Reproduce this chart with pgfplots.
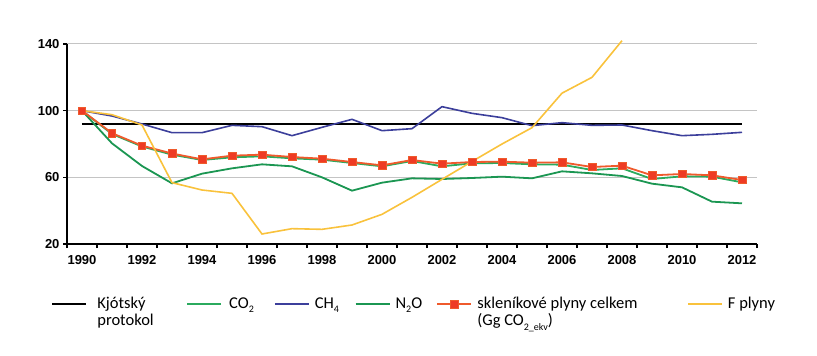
\documentclass[border=0pt]{standalone}
\usepackage{fontspec}
\setmainfont{Carlito}
\newfontfamily\arialfont{Liberation Sans}
\usepackage{pgfplots}
\pgfplotsset{compat=1.18}
\definecolor{cotwo}{HTML}{2BAA5E}
\definecolor{ntwoo}{HTML}{1B9652}
\definecolor{chfour}{HTML}{3C3F9B}
\definecolor{totline}{HTML}{EF5A2C}
\definecolor{totfill}{HTML}{EE3B24}
\definecolor{fgas}{HTML}{F9C23C}
\definecolor{gridc}{HTML}{C4C4C4}
\newcommand\sub[1]{\raisebox{-0.55ex}{\fontsize{10}{10}\selectfont #1}}
\begin{document}
\begin{tikzpicture}
\useasboundingbox (-67pt,-112pt) rectangle (750pt,244pt);
\begin{axis}[
  scale only axis, width=690pt, height=200pt,
  at={(0pt,0pt)}, anchor=south west,
  xmin=1989.5, xmax=2012.5, ymin=20, ymax=140,
  clip=false,
  axis x line*=bottom, axis y line*=left,
  axis line style={line width=1.4pt, black, -},
  xtick={1990,1992,...,2012},
  minor xtick={1989.5,1990.5,...,2012.5},
  ytick={20,60,100,140},
  tick align=outside,
  major tick length=4pt, minor tick length=4pt,
  every tick/.style={black, line width=1.2pt},
  xtick style={draw=none},
  minor x tick style={draw=black, line width=1.2pt},
  ymajorgrids, grid style={gridc, line width=1pt},
  /pgf/number format/1000 sep={},
  /pgf/number format/assume math mode=true,
  ticklabel style={font=\arialfont\bfseries\fontsize{13}{15}\selectfont},
  xticklabel style={yshift=-4pt},
  legend columns=6,
  legend style={draw=none, fill=none, inner sep=0pt, anchor=west,
    at={(axis description cs:-0.0232,-0.30)},
    font=\fontsize{16.5}{17}\selectfont,
    nodes={inner sep=0pt, anchor=west},
    /tikz/every even column/.append style={column sep=0pt},
    /tikz/every odd column/.append style={column sep=0pt}},
  legend image code/.code={\draw[mark repeat=2,mark phase=2,#1] plot coordinates {(0pt,0pt) (17pt,0pt) (34pt,0pt)};},
]
\addplot[black, line width=2.2pt] coordinates {(1990,92) (2012,92)};
\addlegendentry{\makebox[99pt][l]{\hspace{10pt}\rlap{\raisebox{-17pt}[0pt][0pt]{protokol}}Kjótský}}
\addplot[cotwo, line width=1.8pt] coordinates {
(1990,100) (1991,86) (1992,78.5) (1993,73.6) (1994,70.4) (1995,72) (1996,72.6) (1997,71.4) (1998,70.6) (1999,68.6) (2000,66.6) (2001,69.8) (2002,66.6) (2003,68.4) (2004,68.6) (2005,67.8) (2006,67.6) (2007,64.4) (2008,65.4) (2009,59) (2010,60.6) (2011,60.4) (2012,57)};
\addlegendentry{\makebox[52pt][l]{\hspace{7pt}CO\sub{2}}}
\addplot[chfour, line width=1.6pt] coordinates {
(1990,100) (1991,96.8) (1992,92) (1993,86.8) (1994,86.8) (1995,91.2) (1996,90.4) (1997,85) (1998,90) (1999,94.8) (2000,88) (2001,89.2) (2002,102.4) (2003,98.4) (2004,95.8) (2005,91) (2006,92.8) (2007,91.2) (2008,91.4) (2009,88) (2010,85) (2011,85.8) (2012,87)};
\addlegendentry{\makebox[45pt][l]{\hspace{5pt}CH\sub{4}}}
\addplot[ntwoo, line width=1.8pt] coordinates {
(1990,100) (1991,80.4) (1992,66.8) (1993,56.4) (1994,62.2) (1995,65.4) (1996,67.8) (1997,66.6) (1998,60) (1999,52) (2000,56.8) (2001,59.4) (2002,59) (2003,59.6) (2004,60.4) (2005,59.4) (2006,63.6) (2007,62.4) (2008,60.8) (2009,56.2) (2010,54) (2011,45.4) (2012,44.4)};
\addlegendentry{\makebox[46pt][l]{\hspace{5pt}N\sub{2}O}}
\addplot[totline, line width=1.8pt, mark=square*, mark size=3.8pt,
  mark options={fill=totfill, draw=totline, line width=0.6pt}] coordinates {
(1990,100) (1991,86.5) (1992,79) (1993,74.3) (1994,70.8) (1995,73) (1996,73.6) (1997,72.2) (1998,71.2) (1999,69.2) (2000,67.2) (2001,70.4) (2002,68.2) (2003,69.2) (2004,69.4) (2005,68.8) (2006,69) (2007,66.2) (2008,67) (2009,61.2) (2010,62) (2011,61.2) (2012,58.4)};
\addlegendentry{\makebox[215pt][l]{\hspace{5pt}\rlap{\raisebox{-17pt}[0pt][0pt]{(Gg CO\sub{2\_ekv})}}skleníkové plyny celkem}}
\addplot[fgas, line width=1.6pt] coordinates {
(1990,100) (1991,97.6) (1992,91.4) (1993,56.8) (1994,52.4) (1995,50.4) (1996,26) (1997,29.2) (1998,28.8) (1999,31.4) (2000,37.8) (2001,48) (2002,58.8) (2003,69.5) (2004,80) (2005,89.8) (2006,110.5) (2007,120) (2008,142)};
\addlegendentry{\makebox[60pt][l]{\hspace{5pt}F plyny}}
\end{axis}
\end{tikzpicture}
\end{document}
